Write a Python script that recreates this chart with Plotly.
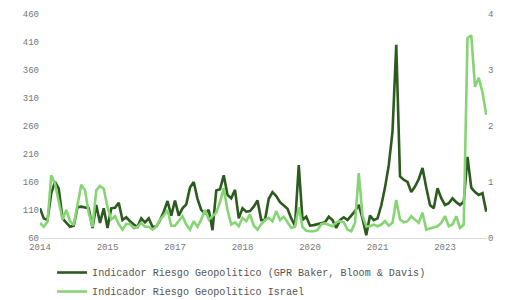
import pandas as pd
import plotly.graph_objects as go

months = [d.strftime("%Y-%m") for d in pd.date_range("2014-04-01", periods=120, freq="MS")]

gpr_global = [113, 95, 92, 140, 160, 148, 95, 87, 80, 82, 115, 116, 115, 113, 78, 119, 87, 113, 78, 113,
              114, 123, 92, 97, 90, 84, 80, 95, 88, 95, 80, 80, 92, 107, 126, 100, 127, 100, 113, 120,
              150, 160, 130, 110, 104, 110, 74, 145, 147, 172, 137, 131, 146, 95, 113, 107, 108, 116, 127, 92,
              92, 130, 142, 135, 124, 118, 112, 95, 82, 190, 92, 98, 82, 83, 85, 87, 88, 98, 92, 78,
              92, 97, 92, 100, 108, 119, 95, 65, 100, 92, 95, 118, 150, 190, 250, 405, 170, 164, 160, 142,
              152, 165, 185, 150, 119, 113, 149, 131, 119, 122, 131, 124, 119, 125, 205, 150, 142, 137, 140, 107]

gpr_israel = [0.27, 0.20, 0.29, 1.12, 0.97, 0.62, 0.33, 0.50, 0.30, 0.23, 0.60, 0.95, 0.85, 0.45, 0.20, 0.85, 0.93, 0.88, 0.55, 0.33,
              0.39, 0.25, 0.15, 0.25, 0.25, 0.17, 0.20, 0.27, 0.20, 0.20, 0.15, 0.20, 0.33, 0.40, 0.50, 0.22, 0.22, 0.30, 0.39, 0.24,
              0.15, 0.30, 0.20, 0.33, 0.50, 0.33, 0.39, 0.45, 0.64, 0.89, 0.50, 0.24, 0.28, 0.21, 0.36, 0.30, 0.42, 0.22, 0.15, 0.25,
              0.32, 0.36, 0.30, 0.48, 0.32, 0.38, 0.28, 0.18, 0.20, 0.55, 0.20, 0.13, 0.12, 0.12, 0.14, 0.25, 0.26, 0.24, 0.21, 0.28,
              0.30, 0.28, 0.15, 0.12, 0.27, 1.16, 0.40, 0.21, 0.21, 0.24, 0.21, 0.24, 0.30, 0.22, 0.27, 0.68, 0.33, 0.28, 0.30, 0.39,
              0.33, 0.27, 0.45, 0.15, 0.17, 0.19, 0.21, 0.27, 0.39, 0.21, 0.24, 0.39, 0.18, 0.24, 3.57, 3.62, 2.70, 2.86, 2.60, 2.20]

tick_positions = [months[i] for i in range(0, 120, 18)]
tick_labels = ["2014", "2015", "2017", "2018", "2020", "2021", "2023"]

name_global = "Indicador Riesgo Geopolitico (GPR Baker, Bloom & Davis)"
name_israel = "Indicador Riesgo Geopolitico Israel"

DARK = "#2c5a1f"
LIGHT = "#86d473"
FONT = "Liberation Mono, DejaVu Sans Mono, monospace"

fig = go.Figure()
fig.add_trace(go.Scatter(x=months, y=gpr_global, name=name_global, mode="lines",
                         line=dict(color=DARK, width=2.6), yaxis="y"))
fig.add_trace(go.Scatter(x=months, y=gpr_israel, name=name_israel, mode="lines",
                         line=dict(color=LIGHT, width=2.6), yaxis="y2"))

fig.update_layout(
    width=527, height=300,
    margin=dict(l=40, r=40, t=14, b=62, autoexpand=False),
    paper_bgcolor="white", plot_bgcolor="white",
    font=dict(family=FONT, size=9, color="#777777"),
    showlegend=True,
    legend=dict(orientation="v", x=0.027, xanchor="left", yref="container", y=0.14, yanchor="top",
                font=dict(family=FONT, size=10.1, color="#555555"),
                tracegroupgap=0, itemwidth=30, bgcolor="rgba(0,0,0,0)"),
    xaxis=dict(type="category", range=[0, 119.2], tickmode="array",
               tickvals=tick_positions, ticktext=tick_labels,
               showgrid=False, showline=True, linecolor="#dddddd", linewidth=1,
               ticks="", zeroline=False, tickfont=dict(size=9, color="#777777")),
    yaxis=dict(range=[60, 460], dtick=50, tick0=60, showgrid=False, zeroline=False,
               showline=False, ticks="", tickfont=dict(size=9, color="#777777")),
    yaxis2=dict(range=[0, 4], dtick=1, overlaying="y", side="right", showgrid=False,
                zeroline=False, showline=False, ticks="", tickfont=dict(size=9, color="#777777")),
)

fig.write_html("out.html")
